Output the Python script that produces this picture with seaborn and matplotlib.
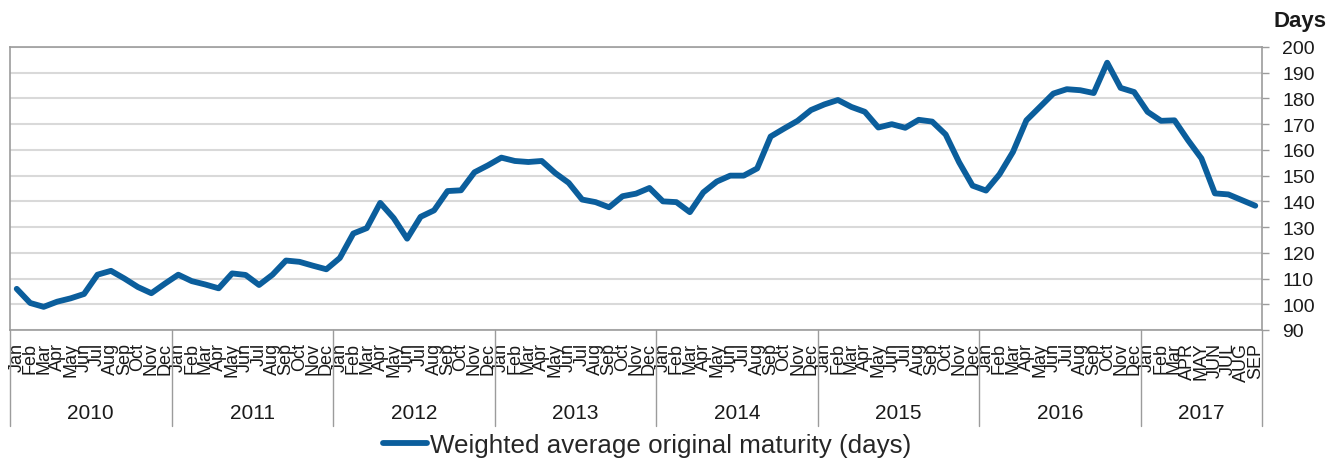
import numpy as np
import pandas as pd
import matplotlib
matplotlib.use("Agg")
import matplotlib.pyplot as plt
import matplotlib.transforms as mtransforms
from matplotlib.lines import Line2D
import seaborn as sns

# ------------------------------------------------------
# Data
# ------------------------------------------------------
YEARS = ["2010", "2011", "2012", "2013", "2014", "2015", "2016", "2017"]
MONTHS = ["Jan", "Feb", "Mar", "Apr", "May", "Jun",
          "Jul", "Aug", "Sep", "Oct", "Nov", "Dec"]
MONTHS_2017 = ["Jan", "Feb", "Mar", "APR", "MAY", "JUN", "JUL", "AUG", "SEP"]

maturity_2010 = [106, 100.5, 99, 101, 102.3, 104, 111.5, 113, 110, 106.7, 104.3, 108]
maturity_2011 = [111.5, 109, 107.7, 106.2, 112, 111.4, 107.5, 111.5, 117, 116.5, 115, 113.6]
maturity_2012 = [118, 127.5, 129.6, 139.4, 133.5, 125.5, 134, 136.5, 144, 144.3, 151.3, 154]
maturity_2013 = [157, 155.7, 155.3, 155.7, 151, 147.2, 140.7, 139.7, 137.7, 142, 143, 145.2]
maturity_2014 = [140, 139.7, 135.8, 143.5, 147.7, 150, 150, 152.8, 165.2, 168.3, 171.3, 175.5]
maturity_2015 = [177.7, 179.4, 176.7, 174.8, 168.7, 170, 168.6, 171.7, 171, 166, 155.2, 146.1]
maturity_2016 = [144.2, 150.5, 159.2, 171.5, 176.7, 181.9, 183.6, 183.2, 182.1, 193.9, 184.1, 182.5]
maturity_2017 = [174.8, 171.3, 171.5, 163.8, 156.7, 143.1, 142.7, 140.5, 138.3]

SERIES_NAME = "Weighted average original maturity (days)"

# ------------------------------------------------------
# Build table
# ------------------------------------------------------
month_labels = MONTHS * 7 + MONTHS_2017
days = (maturity_2010 + maturity_2011 + maturity_2012 + maturity_2013
        + maturity_2014 + maturity_2015 + maturity_2016 + maturity_2017)
year_sizes = [12] * 7 + [len(MONTHS_2017)]

df = pd.DataFrame({"idx": np.arange(len(days)), "days": days})

LINE = "#0b5e9c"
SPINE = "#9c9c9c"
GRID = "#d9d9d9"
TEXT = "#1a1a1a"

# ------------------------------------------------------
# Plot
# ------------------------------------------------------
sns.set_style("white")
plt.rcParams["font.family"] = ["Liberation Sans", "DejaVu Sans"]

W, H = 1332, 464
AX_H = 283
fig = plt.figure(figsize=(W / 100, H / 100), dpi=100)
ax = fig.add_axes([10 / W, 1 - 331 / H, 1252 / W, AX_H / H])

sns.lineplot(data=df, x="idx", y="days", ax=ax, color=LINE, linewidth=4.2,
             label=SERIES_NAME, solid_joinstyle="round", solid_capstyle="round")

ax.set_xlim(-0.5, len(days) - 0.5)
ax.set_ylim(90, 200)
ax.set_xlabel("")
ax.set_ylabel("")

# y axis on the right
ax.yaxis.tick_right()
ax.set_yticks(range(90, 201, 10))
ax.tick_params(axis="y", which="major", direction="out", length=5, width=1,
               color=SPINE, pad=9.5, labelsize=14, labelcolor=TEXT)
ax.grid(axis="y", color=GRID, linewidth=1.5)
ax.set_axisbelow(True)

for s in ax.spines.values():
    s.set_visible(True)
    s.set_color(SPINE)
    s.set_linewidth(1.2)

# month labels + separators (crowded, as in the original)
ax.set_xticks(df["idx"])
ax.set_xticklabels(month_labels, rotation=90, fontsize=13, va="top",
                   ha="center", color=TEXT)
ax.tick_params(axis="x", which="major", length=0, pad=8.5)
ax.set_xticks(np.arange(-0.5, len(days), 1), minor=True)
ax.tick_params(axis="x", which="minor", direction="out", length=42.5,
               width=1, color=SPINE)

# year separators and labels
trans = mtransforms.blended_transform_factory(ax.transData, ax.transAxes)
bounds = np.concatenate([[0], np.cumsum(year_sizes)]) - 0.5
for b in bounds:
    ax.add_line(Line2D([b, b], [0, -96 / AX_H], transform=trans,
                       color=SPINE, linewidth=1, clip_on=False))
for yr, lo, hi in zip(YEARS, bounds[:-1], bounds[1:]):
    ax.text((lo + hi) / 2, -83 / AX_H, yr, transform=trans,
            ha="center", va="center", fontsize=15, color=TEXT)

fig.text(1300 / W, 1 - 22 / H, "Days", ha="center", va="center",
         fontsize=16, fontweight="bold", color=TEXT)

ax.legend(loc="center", bbox_to_anchor=(647 / W, 1 - 446 / H),
          bbox_transform=fig.transFigure, frameon=False, fontsize=18.7,
          handlelength=1.7, handletextpad=0.1)

fig.savefig("out.png", dpi=100)
plt.close(fig)
